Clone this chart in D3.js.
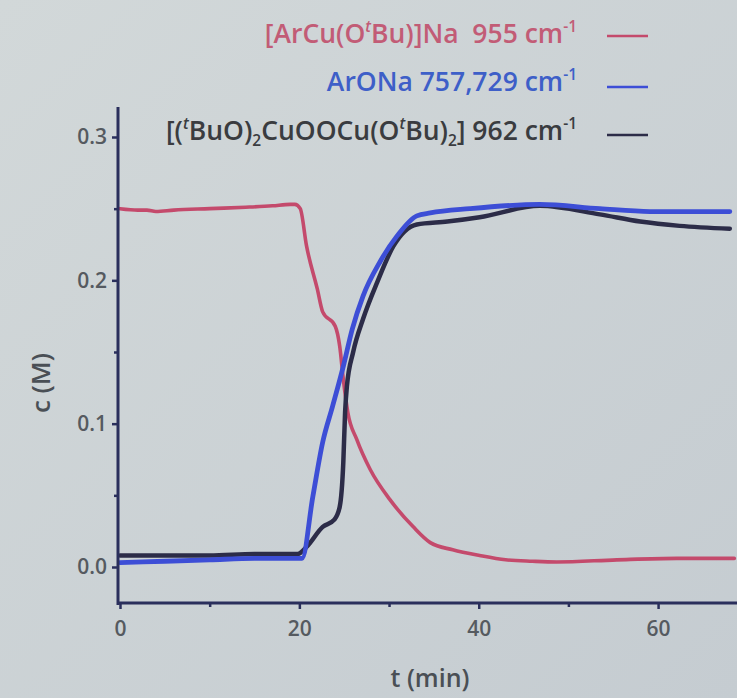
<!DOCTYPE html>
<html>
<head>
<meta charset="utf-8">
<script src="https://cdn.jsdelivr.net/npm/d3@7"></script>
<style>
  html, body { margin: 0; padding: 0; background: #ccd2d5; }
  svg { display: block; }
  text { font-family: "Open Sans", "Noto Sans", sans-serif; }
</style>
</head>
<body>
<svg id="chart" width="737" height="698"></svg>
<script>
// ---- data (t in min, c in M) ----
const redT = [0, 2, 3, 4, 6, 10, 14, 17, 19, 19.5, 20.1, 20.8, 22.0, 22.6, 24.0, 24.5, 24.9, 25.4, 26.4, 27.9, 30.1, 32.7, 34.6, 37.1, 40.1, 43.0, 46.0, 48.7, 55.4, 62.1, 68.5];
const redC = [0.250, 0.249, 0.249, 0.248, 0.249, 0.250, 0.251, 0.252, 0.253, 0.253, 0.250, 0.224, 0.194, 0.178, 0.168, 0.154, 0.131, 0.108, 0.089, 0.068, 0.047, 0.028, 0.017, 0.012, 0.008, 0.005, 0.004, 0.0035, 0.005, 0.006, 0.006];

const blueT = [0, 5, 10, 15, 19.5, 20.3, 21.5, 22.6, 23.7, 24.9, 25.9, 27.1, 29.0, 30.9, 33.1, 34.6, 39.0, 46.8, 53.5, 59.1, 68.0];
const blueC = [0.003, 0.004, 0.005, 0.006, 0.006, 0.006, 0.049, 0.087, 0.112, 0.140, 0.166, 0.189, 0.213, 0.231, 0.245, 0.247, 0.250, 0.253, 0.250, 0.248, 0.248];

const darkT = [0, 5, 10, 15, 19.8, 20.8, 22.6, 23.9, 24.5, 24.9, 25.1, 25.3, 26.0, 27.1, 28.7, 30.5, 33.1, 36.5, 40.1, 46.8, 53.5, 58.0, 62.4, 68.0];
const darkC = [0.008, 0.008, 0.008, 0.009, 0.009, 0.014, 0.028, 0.033, 0.042, 0.073, 0.108, 0.126, 0.150, 0.173, 0.199, 0.224, 0.239, 0.241, 0.244, 0.252, 0.246, 0.241, 0.238, 0.236];

const xTicks = [0, 20, 40, 60];
const xMinorTicks = [10, 30, 50];
const yTicks = [0.0, 0.1, 0.2, 0.3];
const yMinorTicks = [0.05, 0.15, 0.25];

// legend labels, split into [text, style] runs
const legendLabels = [
  [["[ArCu(O"], ["t", "supi"], ["Bu)]Na\u00a0\u00a0955 cm"], ["-1", "sup"]],
  [["ArONa 757,729 cm"], ["-1", "sup"]],
  [["[("], ["t", "supi"], ["BuO)"], ["2", "sub"], ["CuOOCu(O"], ["t", "supi"], ["Bu)"], ["2", "sub"], ["] 962 cm"], ["-1", "sup"]]
];

// ---- layout ----
const svg = d3.select("#chart");
const W = 737, H = 698;

const defs = svg.append("defs");
const grad = defs.append("linearGradient").attr("id", "bg")
  .attr("x1", "0").attr("y1", "0").attr("x2", "1").attr("y2", "1");
grad.append("stop").attr("offset", "0").attr("stop-color", "#d2d8d9");
grad.append("stop").attr("offset", "1").attr("stop-color", "#c5ccd1");
svg.append("rect").attr("width", W).attr("height", H).attr("fill", "url(#bg)");

const x = d3.scaleLinear().domain([0, 68.8]).range([120, 737]);
const y = d3.scaleLinear().domain([0, 0.3]).range([567, 137]);

const axisColor = "#2a2f5c";
const labelColor = "#555a60";

// lines
const line = d3.line().x(d => x(d[0])).y(d => y(d[1])).curve(d3.curveMonotoneX);
const zip = (a, b) => a.map((v, i) => [v, b[i]]);

const plot = svg.append("g");
plot.append("path").datum(zip(redT, redC))
  .attr("d", line).attr("fill", "none").attr("stroke", "#c44a6c").attr("stroke-width", 3.6)
  .attr("stroke-linejoin", "round").attr("stroke-linecap", "round");
plot.append("path").datum(zip(darkT, darkC))
  .attr("d", line).attr("fill", "none").attr("stroke", "#2c2c48").attr("stroke-width", 4.5)
  .attr("stroke-linejoin", "round").attr("stroke-linecap", "round");
plot.append("path").datum(zip(blueT, blueC))
  .attr("d", line).attr("fill", "none").attr("stroke", "#3d4ed6").attr("stroke-width", 4.8)
  .attr("stroke-linejoin", "round").attr("stroke-linecap", "round");

// y axis
const yAxisX = 118;
const yAx = svg.append("g").attr("transform", `translate(${yAxisX},0)`);
yAx.call(d3.axisLeft(y).tickValues(yTicks).tickFormat(d3.format(".1f")).tickSize(6).tickPadding(5));
yAx.append("g").call(d3.axisLeft(y).tickValues(yMinorTicks).tickFormat("").tickSize(4));
yAx.selectAll(".domain").remove();
yAx.append("line").attr("x1", 0).attr("x2", 0).attr("y1", 107).attr("y2", 605)
  .attr("stroke", axisColor).attr("stroke-width", 3);
yAx.selectAll(".tick line").attr("stroke", axisColor).attr("stroke-width", 2.5);
yAx.selectAll(".tick text").attr("fill", labelColor).attr("font-size", 21).attr("font-weight", 600);

// x axis
const xAxisY = 603;
const xAx = svg.append("g").attr("transform", `translate(0,${xAxisY})`);
xAx.call(d3.axisBottom(x).tickValues(xTicks).tickFormat(d3.format("d")).tickSize(6).tickPadding(12));
xAx.append("g").call(d3.axisBottom(x).tickValues(xMinorTicks).tickFormat("").tickSize(4));
xAx.selectAll(".domain").remove();
xAx.append("line").attr("x1", 117).attr("x2", 737).attr("y1", 0).attr("y2", 0)
  .attr("stroke", axisColor).attr("stroke-width", 3);
xAx.selectAll(".tick line").attr("stroke", axisColor).attr("stroke-width", 2.5);
xAx.selectAll(".tick text").attr("fill", labelColor).attr("font-size", 21).attr("font-weight", 600);

// axis titles
svg.append("text").attr("x", 430).attr("y", 687).attr("text-anchor", "middle")
  .attr("font-size", 25).attr("font-weight", 600).attr("fill", "#4a4f55").text("t (min)");
svg.append("text").attr("transform", "translate(50,383) rotate(-90)").attr("text-anchor", "middle")
  .attr("font-size", 26).attr("font-weight", 600).attr("fill", "#4a4f55").text("c (M)");

// legend
const legendText = ["#c25c76", "#3e5fc8", "#3a3c40"];
const legendLine = ["#c44a6c", "#3d4ed6", "#2c2c48"];
const legendBase = [43, 91, 140];
const legendLineY = [36, 87, 135];
const lg = svg.append("g");
legendLabels.forEach((parts, i) => {
  const t = lg.append("text").attr("x", 577).attr("y", legendBase[i]).attr("text-anchor", "end")
    .attr("font-size", 26.5).attr("font-weight", 600).attr("fill", legendText[i]);
  let pending = 0;
  parts.forEach(p => {
    const ts = t.append("tspan").text(p[0]);
    let dy = pending;
    pending = 0;
    if (p[1] === "sup" || p[1] === "supi") {
      ts.attr("font-size", 15.5);
      dy += -11; pending = 11;
      if (p[1] === "supi") ts.attr("font-style", "italic");
    } else if (p[1] === "sub") {
      ts.attr("font-size", 15.5);
      dy += 6; pending = -6;
    }
    if (dy !== 0) ts.attr("dy", dy);
  });
  lg.append("line").attr("x1", 607).attr("x2", 648).attr("y1", legendLineY[i]).attr("y2", legendLineY[i])
    .attr("stroke", legendLine[i]).attr("stroke-width", 2.5);
});
</script>
</body>
</html>
